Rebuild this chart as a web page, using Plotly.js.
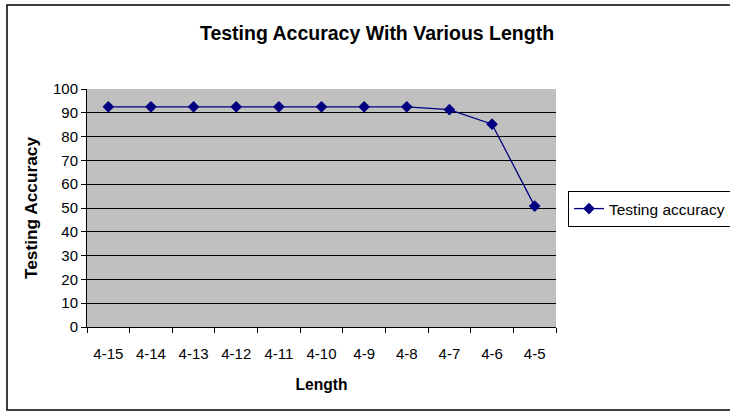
<!DOCTYPE html>
<html>
<head>
<meta charset="utf-8">
<script src="https://cdn.plot.ly/plotly-3.0.1.min.js"></script>
<style>html,body{margin:0;padding:0;background:#fff;}#chart{width:730px;height:415px;}</style>
</head>
<body>
<div id="chart"></div>
<script>
var categories = ["4-15","4-14","4-13","4-12","4-11","4-10","4-9","4-8","4-7","4-6","4-5"];
var accuracy = [92.5, 92.5, 92.5, 92.5, 92.5, 92.5, 92.5, 92.5, 91.3, 85.2, 50.8];
var seriesName = "Testing accuracy";
var yTicks = [0,10,20,30,40,50,60,70,80,90,100];

var L = 87, R = 174, T = 89, B = 88, W = 730, H = 415;
var pw = W - L - R, ph = H - T - B;
function px(x){ return (x - L) / pw; }
function py(y){ return (H - B - y) / ph; }

var trace = {
  x: categories, y: accuracy, name: seriesName,
  type: 'scatter', mode: 'lines+markers',
  line: {color: '#000080', width: 1.3},
  marker: {symbol: 'diamond', size: 9, color: '#000080'}
};

var font = {family: 'Arial, "Liberation Sans", sans-serif', color: '#000'};

var layout = {
  width: W, height: H,
  margin: {l: L, r: R, t: T, b: B, pad: 0, autoexpand: false},
  paper_bgcolor: '#fff', plot_bgcolor: '#c0c0c0',
  font: Object.assign({size: 15}, font),
  showlegend: true,
  title: {text: '<b>Testing Accuracy With Various Length</b>', font: Object.assign({size: 19.5}, font),
          x: 377/W, xref: 'container', xanchor: 'center', y: 1 - 33/H, yref: 'container', yanchor: 'middle'},
  xaxis: {
    type: 'category', tickson: 'boundaries', ticks: 'outside', ticklen: 5, tickcolor: '#000',
    showline: true, linecolor: '#000', linewidth: 1, showgrid: false, zeroline: false,
    tickfont: Object.assign({size: 15}, font), ticklabelstandoff: 13,
    title: {text: '<b>Length</b>', font: Object.assign({size: 15.6}, font), standoff: 18},
    range: [-0.5, categories.length - 0.5], fixedrange: true
  },
  yaxis: {
    range: [0, 100], tickvals: yTicks, ticks: 'outside', ticklen: 5, tickcolor: '#000',
    showline: true, linecolor: '#000', linewidth: 1,
    showgrid: true, gridcolor: '#000', gridwidth: 1, zeroline: false,
    tickfont: Object.assign({size: 15}, font),
    title: {text: '<b>Testing Accuracy</b>', font: Object.assign({size: 17.3}, font), standoff: 10},
    fixedrange: true
  },
  legend: {
    x: px(568), y: py(191), xanchor: 'left', yanchor: 'top',
    bgcolor: '#fff', bordercolor: '#000', borderwidth: 1,
    font: Object.assign({size: 15.5}, font)
  },
  shapes: [{
    type: 'rect', xref: 'paper', yref: 'paper',
    x0: px(7), x1: px(740), y0: py(410), y1: py(5),
    line: {color: '#000', width: 1.5}, fillcolor: 'rgba(0,0,0,0)', layer: 'below'
  }]
};

Plotly.newPlot('chart', [trace], layout, {displayModeBar: false, staticPlot: true});
</script>
</body>
</html>
